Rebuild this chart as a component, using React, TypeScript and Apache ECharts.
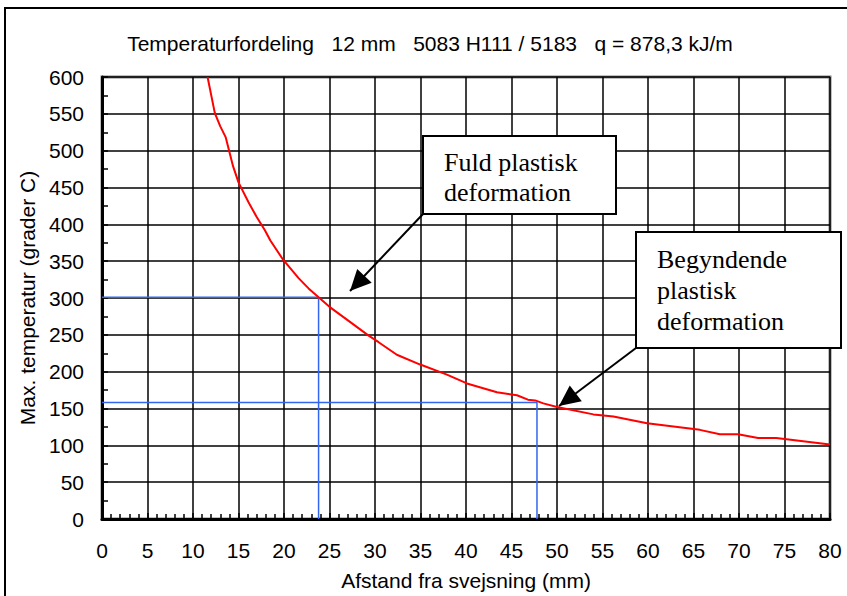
import React, { useEffect, useRef } from "react";
import * as echarts from "echarts";

const titleText = "Temperaturfordeling   12 mm   5083 H111 / 5183   q = 878,3 kJ/m";
const xAxisName = "Afstand fra svejsning (mm)";
const yAxisName = "Max. temperatur (grader C)";

const distanceMm = [11.6, 12.4, 13.0, 13.6, 14.4, 15.0, 16.1, 17.0, 17.9, 18.5, 19.9, 21.6, 22.7, 23.8, 25.0, 27.1, 29.3, 30.4, 32.4, 34.9, 37.9, 40.1, 43.4, 45.6, 46.8, 47.6, 48.5, 50.0, 54.0, 56.2, 59.9, 65.7, 67.9, 69.9, 72.1, 74.1, 80];
const maxTemperature = [600, 551, 533, 518, 479, 457, 430, 410, 392, 378, 352, 327, 313, 301, 288, 269, 249, 240, 223, 210, 196, 184, 172, 168, 162, 161, 157, 152, 142, 139, 130, 121, 115, 115, 110, 110, 101];

const fullPlasticX = [0, 23.8, 23.8];
const fullPlasticY = [301, 301, 0];
const beginPlasticX = [0, 47.8, 47.8];
const beginPlasticY = [158, 158, 0];

const fullPlasticLabel = "Fuld plastisk\ndeformation";
const beginPlasticLabel = "Begyndende\nplastisk\ndeformation";

function arrowHead(fromX: number, fromY: number, tipX: number, tipY: number, len: number, halfW: number) {
  const dx = tipX - fromX;
  const dy = tipY - fromY;
  const d = Math.sqrt(dx * dx + dy * dy);
  const ux = dx / d;
  const uy = dy / d;
  const bx = tipX - ux * len;
  const by = tipY - uy * len;
  const px = -uy;
  const py = ux;
  return [
    [tipX, tipY],
    [bx + px * halfW, by + py * halfW],
    [bx - px * halfW, by - py * halfW],
  ];
}

export default function App() {
  const ref = useRef<HTMLDivElement>(null);
  useEffect(() => {
    if (!ref.current) return;
    const chart = echarts.init(ref.current, undefined, { renderer: "svg" });
    const sans = "'Liberation Sans', Arial, sans-serif";
    const serif = "'Liberation Serif', 'Times New Roman', serif";

    const a1 = { x0: 423, y0: 214, x1: 350, y1: 291 };
    const a2 = { x0: 636, y0: 348, x1: 559, y1: 406 };

    chart.setOption({
      animation: false,
      backgroundColor: "#fff",
      grid: {
        left: 102,
        top: 77,
        width: 728,
        height: 446,
        show: true,
        borderColor: "#808080",
        borderWidth: 3,
        containLabel: false,
      },
      xAxis: {
        type: "value",
        min: 0,
        max: 80,
        interval: 5,
        name: xAxisName,
        nameLocation: "middle",
        nameGap: 51,
        nameTextStyle: { fontFamily: sans, fontSize: 21, color: "#000" },
        axisLine: { show: true, onZero: false, lineStyle: { color: "#000", width: 3 } },
        axisTick: { show: true, inside: true, length: 6, lineStyle: { color: "#000", width: 1.5 } },
        minorTick: { show: true, splitNumber: 5, length: 5, lineStyle: { color: "#000", width: 1.5 } },
        splitLine: { show: true, lineStyle: { color: "#000", width: 1.5 } },
        axisLabel: { fontFamily: sans, fontSize: 21, color: "#000", margin: 21 },
      },
      yAxis: {
        type: "value",
        min: 0,
        max: 600,
        interval: 50,
        name: yAxisName,
        nameLocation: "middle",
        nameGap: 64,
        nameTextStyle: { fontFamily: sans, fontSize: 21, color: "#000" },
        axisLine: { show: true, onZero: false, lineStyle: { color: "#000", width: 3 } },
        axisTick: { show: true, inside: true, length: 6, lineStyle: { color: "#000", width: 1.5 } },
        minorTick: { show: true, splitNumber: 2, length: 6, lineStyle: { color: "#000", width: 1.5 } },
        splitLine: { show: true, lineStyle: { color: "#000", width: 1.5 } },
        axisLabel: { fontFamily: sans, fontSize: 21, color: "#000", margin: 18 },
      },
      series: [
        {
          type: "line",
          data: fullPlasticX.map((x, i) => [x, fullPlasticY[i]]),
          showSymbol: false,
          symbol: "none",
          lineStyle: { color: "#3366ee", width: 1.5 },
          z: 3,
        },
        {
          type: "line",
          data: beginPlasticX.map((x, i) => [x, beginPlasticY[i]]),
          showSymbol: false,
          symbol: "none",
          lineStyle: { color: "#3366ee", width: 1.5 },
          z: 3,
        },
        {
          type: "line",
          data: distanceMm.map((x, i) => [x, maxTemperature[i]]),
          showSymbol: false,
          symbol: "none",
          clip: true,
          lineStyle: { color: "#ff0000", width: 2 },
          z: 4,
        },
      ],
      graphic: [
        {
          type: "rect",
          shape: { x: 5, y: 8, width: 900, height: 700 },
          style: { fill: "none", stroke: "#000", lineWidth: 2 },
          z: 0,
          silent: true,
        },
        {
          type: "text",
          x: 430,
          y: 43,
          style: {
            text: titleText,
            fontFamily: sans,
            fontSize: 21,
            fill: "#000",
            align: "center",
            verticalAlign: "middle",
          },
        },
        {
          type: "line",
          shape: { x1: a1.x0, y1: a1.y0, x2: a1.x1, y2: a1.y1 },
          style: { stroke: "#000", lineWidth: 2 },
          z: 10,
        },
        {
          type: "polygon",
          shape: { points: arrowHead(a1.x0, a1.y0, a1.x1, a1.y1, 21, 10) },
          style: { fill: "#000" },
          z: 10,
        },
        {
          type: "line",
          shape: { x1: a2.x0, y1: a2.y0, x2: a2.x1, y2: a2.y1 },
          style: { stroke: "#000", lineWidth: 2 },
          z: 10,
        },
        {
          type: "polygon",
          shape: { points: arrowHead(a2.x0, a2.y0, a2.x1, a2.y1, 21, 10) },
          style: { fill: "#000" },
          z: 10,
        },
        {
          type: "rect",
          shape: { x: 423, y: 136, width: 193, height: 78 },
          style: { fill: "#fff", stroke: "#000", lineWidth: 2 },
          z: 11,
        },
        {
          type: "text",
          x: 444,
          y: 177,
          z: 12,
          style: {
            text: fullPlasticLabel,
            fontFamily: serif,
            fontSize: 26,
            lineHeight: 30,
            fill: "#000",
            align: "left",
            verticalAlign: "middle",
          },
        },
        {
          type: "rect",
          shape: { x: 636, y: 232, width: 205, height: 116 },
          style: { fill: "#fff", stroke: "#000", lineWidth: 2 },
          z: 11,
        },
        {
          type: "text",
          x: 657,
          y: 290,
          z: 12,
          style: {
            text: beginPlasticLabel,
            fontFamily: serif,
            fontSize: 26,
            lineHeight: 31,
            fill: "#000",
            align: "left",
            verticalAlign: "middle",
          },
        },
      ],
    });
    return () => chart.dispose();
  }, []);
  return (
    <div
      ref={ref}
      style={{ position: "absolute", left: 0, top: 0, width: 847, height: 596 }}
    />
  );
}
